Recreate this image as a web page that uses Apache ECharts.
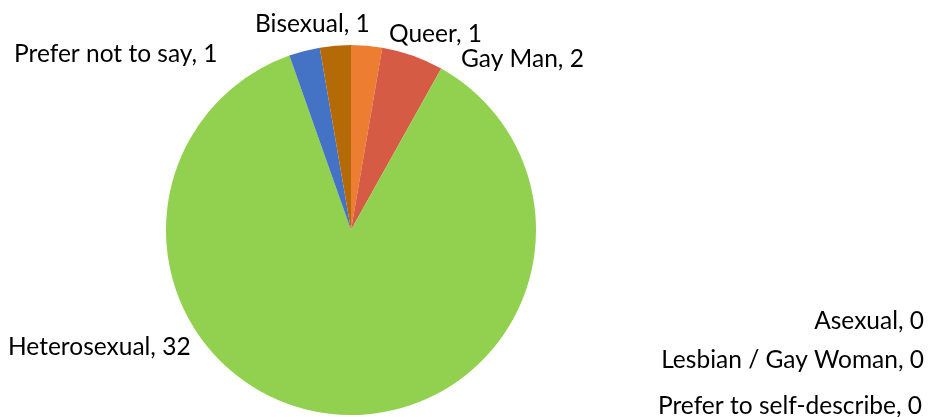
<!DOCTYPE html>
<html>
<head>
<meta charset="utf-8">
<script src="https://cdn.jsdelivr.net/npm/echarts@6/dist/echarts.min.js"></script>
<style>
  html, body { margin: 0; padding: 0; background: #ffffff; }
  #chart { width: 935px; height: 417px; }
</style>
</head>
<body>
<div id="chart"></div>
<script>
// Responses by sexual orientation, in clockwise order from 12 o'clock
const categories = [
  'Queer', 'Gay Man', 'Asexual', 'Lesbian / Gay Woman',
  'Prefer to self-describe', 'Heterosexual', 'Prefer not to say', 'Bisexual'
];
const counts = [1, 2, 0, 0, 0, 32, 1, 1];
const sliceColors = [
  '#ED7D31', '#D55B44', '#A5A5A5', '#5B9BD5',
  '#70AD47', '#92D050', '#4472C4', '#B46A06'
];

// Where each label sits (anchor point, alignment)
const labelSpots = [
  { x: 389, y: 34, align: 'left' },
  { x: 461, y: 59, align: 'left' },
  { x: 924, y: 321, align: 'right' },
  { x: 924, y: 360, align: 'right' },
  { x: 922, y: 406, align: 'right' },
  { x: 8, y: 347, align: 'left' },
  { x: 14, y: 54, align: 'left' },
  { x: 255, y: 24, align: 'left' }
];

const chart = echarts.init(document.getElementById('chart'), null, { renderer: 'canvas' });

chart.setOption({
  animation: false,
  backgroundColor: '#ffffff',
  series: [{
    type: 'pie',
    center: [351, 230],
    radius: 185,
    startAngle: 90,
    clockwise: true,
    minShowLabelAngle: 0,
    avoidLabelOverlap: false,
    stillShowZeroSum: true,
    data: categories.map((name, i) => ({
      name: name,
      value: counts[i],
      itemStyle: { color: sliceColors[i] }
    })),
    itemStyle: { borderWidth: 0 },
    label: {
      show: true,
      position: 'outside',
      formatter: '{b}, {c}',
      color: '#000000',
      fontFamily: 'Lato',
      fontSize: 24.5
    },
    labelLine: { show: false },
    labelLayout: function (params) {
      const s = labelSpots[params.dataIndex];
      return { x: s.x, y: s.y, align: s.align, verticalAlign: 'middle', hideOverlap: false };
    },
    emphasis: { disabled: true }
  }]
});
</script>
</body>
</html>
